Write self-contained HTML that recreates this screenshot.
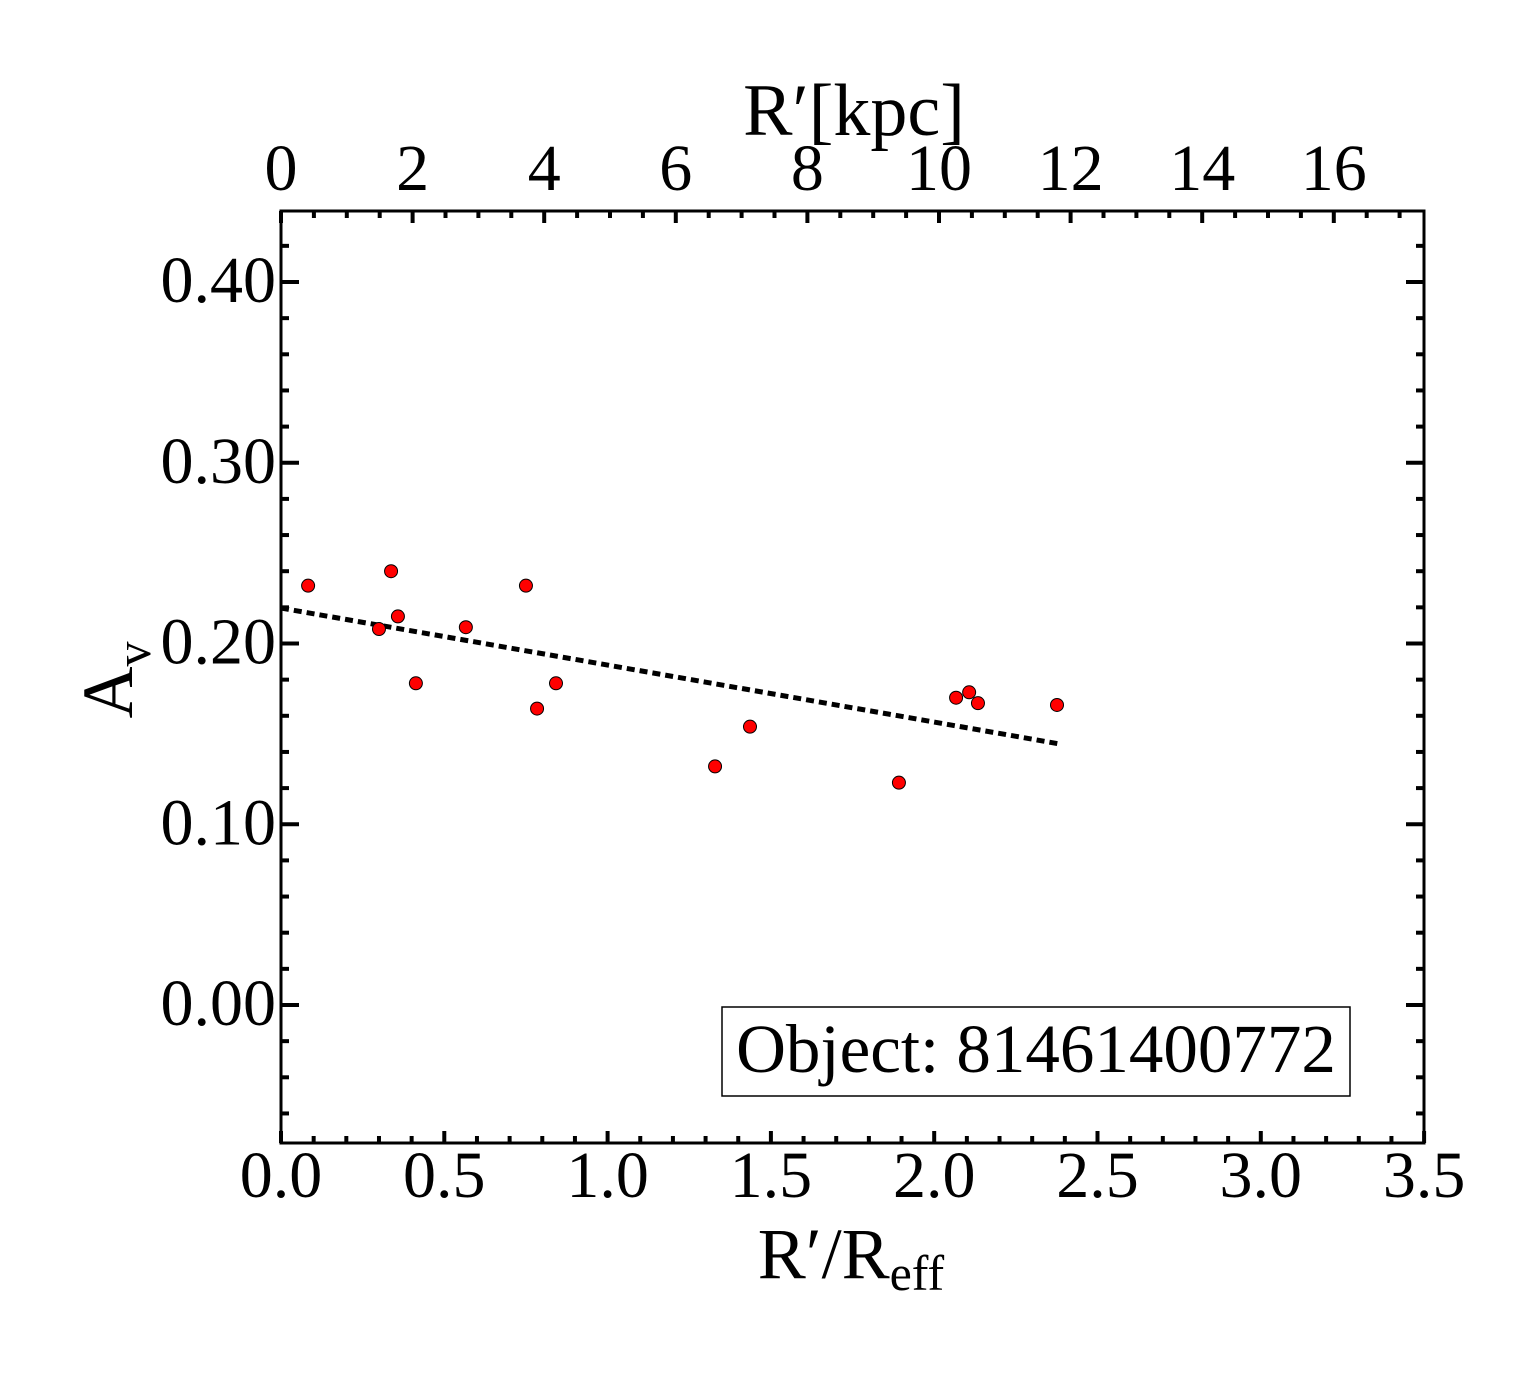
<!DOCTYPE html>
<html><head><meta charset="utf-8"><style>body{margin:0;background:#fff}svg{display:block}text{font-family:"Liberation Serif",serif;fill:#000}</style></head>
<body>
<svg id="chart" width="1540" height="1375" xmlns="http://www.w3.org/2000/svg"></svg>
<script>
const xValues=[0.083,0.300,0.337,0.358,0.413,0.566,0.750,0.784,0.842,1.329,1.436,1.892,2.067,2.107,2.134,2.376];
const yValues=[0.232,0.208,0.240,0.215,0.178,0.209,0.232,0.164,0.178,0.132,0.154,0.123,0.170,0.173,0.167,0.166];
const fitX=[0.0,2.385];
const fitY=[0.2196,0.1444];
const xTicks=["0.0","0.5","1.0","1.5","2.0","2.5","3.0","3.5"];
const yTicks=["0.00","0.10","0.20","0.30","0.40"];
const kpcTicks=["0","2","4","6","8","10","12","14","16"];
const L=281,R=1424,T=211,B=1143;
const X=v=>L+v*326.6, Y=v=>1005-v*1807.5, K=v=>L+v*65.8;
const svg=document.getElementById('chart');
const NS='http://www.w3.org/2000/svg';
function mk(tag,attrs,parent){const e=document.createElementNS(NS,tag);for(const k in attrs)e.setAttribute(k,attrs[k]);(parent||svg).appendChild(e);return e;}
function txt(s,x,y,size,anchor,parent){const t=mk('text',{x:x,y:y,'font-size':size,'text-anchor':anchor||'middle'},parent);t.textContent=s;return t;}
const frame=mk('rect',{x:L,y:T,width:R-L,height:B-T,fill:'none',stroke:'#000','stroke-width':3});


const ticks=mk('g',{stroke:'#000','stroke-width':4});


for(let i=0;i<=35;i++){const x=X(i/10),len=i%5==0?12:7;
 mk('line',{x1:x,y1:B,x2:x,y2:B-len},ticks);}
for(let i=0;i<=35;i++){const x=K(i/2);if(x>R)break;const len=i%4==0?12:7;
 mk('line',{x1:x,y1:T,x2:x,y2:T+len},ticks);}
for(let i=-3;i<=22;i++){const y=Y(i*0.02);if(y<T||y>B)continue;const len=i%5==0?18:8;
 mk('line',{x1:L,y1:y,x2:L+len,y2:y},ticks);mk('line',{x1:R,y1:y,x2:R-len,y2:y},ticks);}
const xl=mk('g',{});


xTicks.forEach(s=>txt(s,X(parseFloat(s)),1197,66,'middle',xl));
const yl=mk('g',{});


yTicks.forEach(s=>txt(s,276,Y(parseFloat(s))+20,66,'end',yl));
const kl=mk('g',{});


kpcTicks.forEach(s=>txt(s,K(parseFloat(s)),190,66,'middle',kl));
const xt=txt('',851,1278,72);
xt.innerHTML='R′/R<tspan font-size="50" dy="12">eff</tspan>';


const tt=txt('R′[kpc]',854,135,74);


const yt=mk('text',{transform:'translate(132,680) rotate(-90)','font-size':72,'text-anchor':'middle'});
yt.innerHTML='A<tspan font-size="50" dy="18">v</tspan>';


const fit=mk('line',{x1:X(fitX[0]),y1:Y(fitY[0]),x2:X(fitX[1]),y2:Y(fitY[1]),stroke:'#000','stroke-width':5,'stroke-dasharray':'8 5'});


xValues.forEach((v,i)=>{const c=mk('circle',{cx:X(v),cy:Y(yValues[i]),r:6.5,fill:'#f00',stroke:'#000','stroke-width':1});
 
 });
const lg=mk('g',{});


mk('rect',{x:722,y:1007,width:628,height:89,fill:'#fff',stroke:'#000','stroke-width':1.5},lg);
txt('Object: 81461400772',1036,1072,69,'middle',lg);
</script>
</body></html>
